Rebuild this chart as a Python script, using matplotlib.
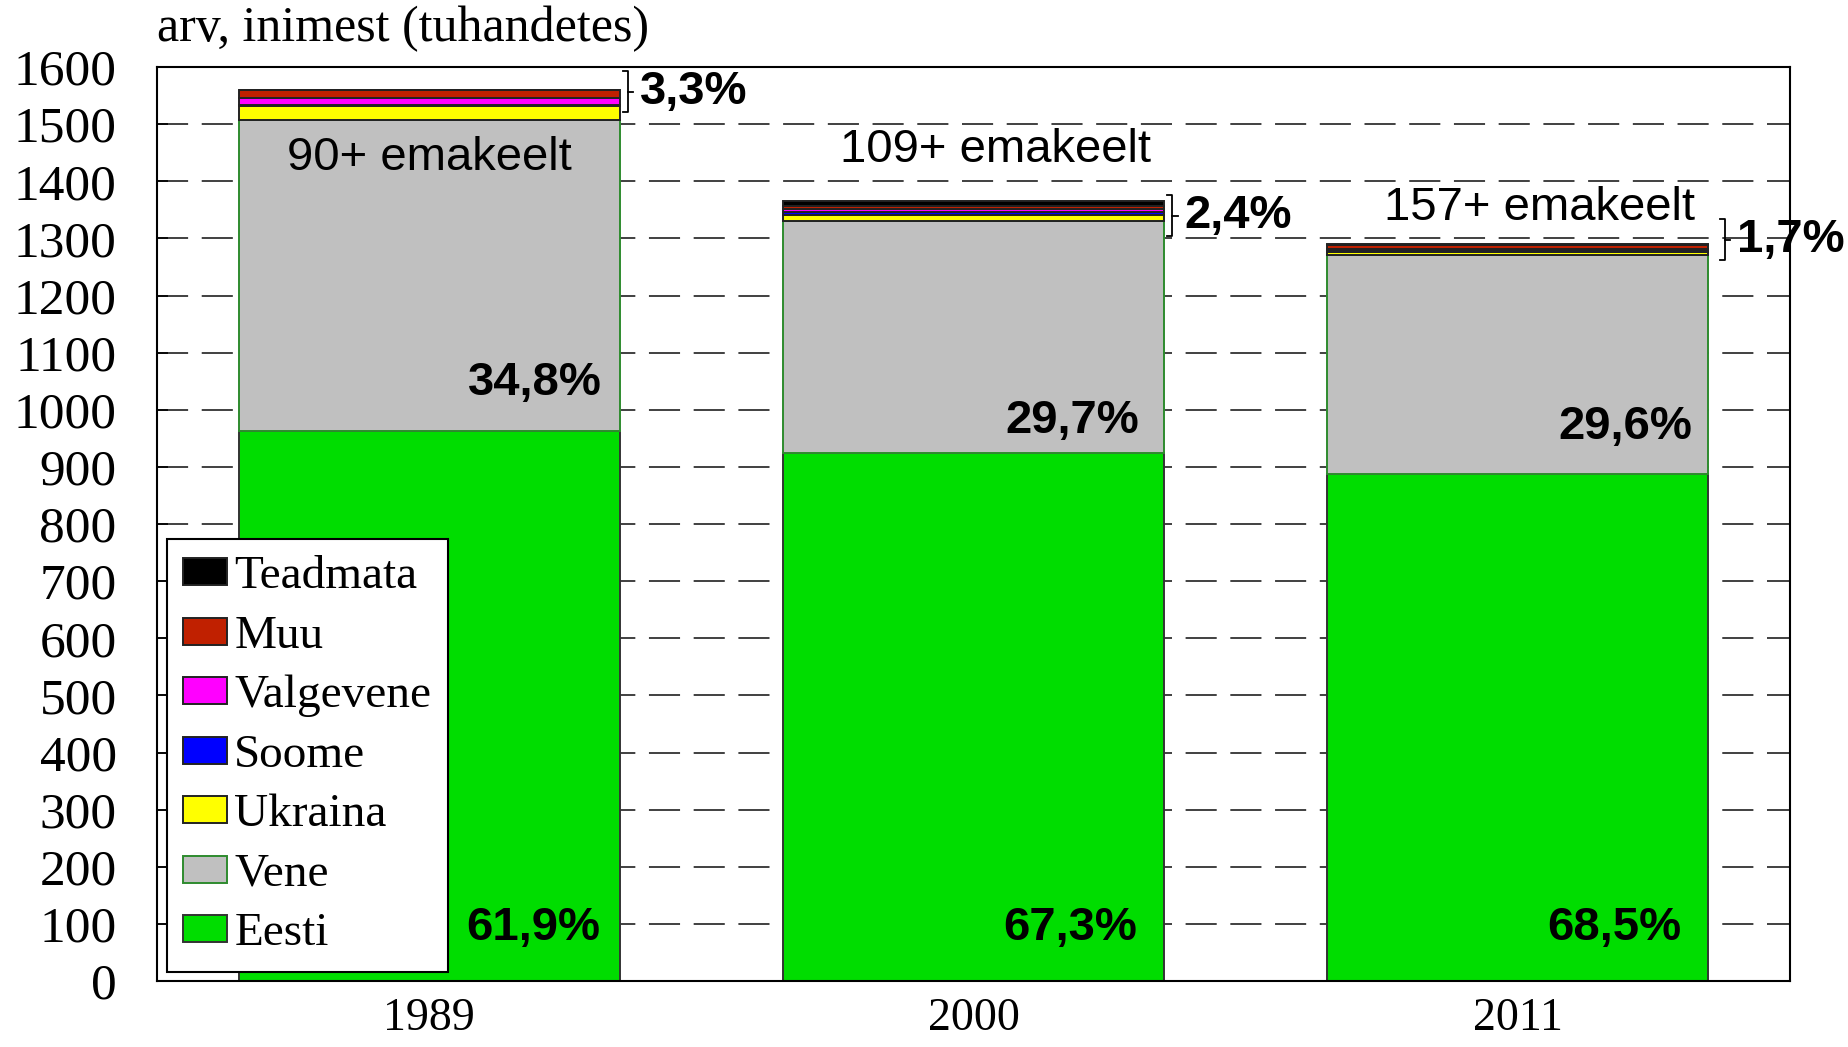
import numpy as np
import matplotlib

matplotlib.use("Agg")
from matplotlib import pyplot as plt

# population by mother tongue, thousands
years = ['1989', '2000', '2011']
eesti = [963, 924, 888]
vene = [544, 406, 383]
ukraina = [24, 11, 6]
soome = [3, 5, 2]
valgevene = [12, 5, 2]
muu = [14, 5, 7]
teadmata = [0, 10, 3]

names = ['Eesti', 'Vene', 'Ukraina', 'Soome', 'Valgevene', 'Muu', 'Teadmata']
colors = ['#00dd00', '#c0c0c0', '#ffff00', '#0000ff', '#ff00ff', '#c02000', '#000000']
edges = ['#333333', '#2e8b2e', '#222222', '#222222', '#222222', '#222222', '#222222']

eesti_pct = ['61,9%', '67,3%', '68,5%']
vene_pct = ['34,8%', '29,7%', '29,6%']
other_pct = ['3,3%', '2,4%', '1,7%']
n_keeli = ['90+ emakeelt', '109+ emakeelt', '157+ emakeelt']

serif = 'Liberation Serif'
sans = 'Liberation Sans'

fig = plt.figure(figsize=(18.49, 10.47), dpi=100)
ax = fig.add_axes([0.0849, 0.0630, 0.8832, 0.8730])

x = np.arange(len(years))
width = 0.70
series = [eesti, vene, ukraina, soome, valgevene, muu, teadmata]
bottom = np.zeros(len(years))
handles = []
for vals, name, c, ec in zip(series, names, colors, edges):
    vals = np.array(vals, dtype=float)
    b = ax.bar(x, vals, width, bottom=bottom, color=c, edgecolor=ec,
               linewidth=1.4, label=name, zorder=2)
    handles.append(b)
    bottom = bottom + vals

ax.set_xlim(-0.5, 2.5)
ax.set_ylim(0, 1600)
ax.set_yticks(np.arange(0, 1601, 100))
ax.set_xticks(x)
ax.set_xticklabels(years)

ax.yaxis.grid(True, linestyle=(0, (16, 7)), color='#404040', linewidth=1.4)
ax.set_axisbelow(True)
for s in ax.spines.values():
    s.set_linewidth(1.5)
    s.set_color('black')

ax.tick_params(axis='y', direction='in', length=8, width=1.2, pad=29,
               labelsize=37, labelfontfamily=serif)
ax.tick_params(axis='x', direction='in', length=14, width=1.2, pad=12,
               labelsize=33, labelfontfamily=serif)

ax.text(0, 1.0416, 'arv, inimest (tuhandetes)', transform=ax.transAxes,
        ha='left', va='center', fontsize=36, family=serif)

# labels on bars
eesti_y = 93
vene_y = [1047, 981, 970]
vene_x = [0.317, 1.304, 2.32]
eesti_x = [0.315, 1.30, 2.30]
for i in range(len(years)):
    ax.text(eesti_x[i], eesti_y, eesti_pct[i], ha='right', va='center',
            fontsize=34, fontweight='bold', family=sans, zorder=5)
    ax.text(vene_x[i], vene_y[i], vene_pct[i], ha='right', va='center',
            fontsize=34, fontweight='bold', family=sans, zorder=5)

keeli_x = [0.0, 1.04, 2.04]
keeli_y = [1440, 1455, 1354]
for i in range(len(years)):
    ax.text(keeli_x[i], keeli_y[i], n_keeli[i], ha='center', va='center',
            fontsize=34, family=sans, zorder=5)

# brackets for the small languages
brace_y = [1557, 1340, 1298]
brace_dx = [0.0, 0.0, 0.015]
for i in range(len(years)):
    x0 = x[i] + width / 2 + 0.006 + brace_dx[i]
    x1 = x0 + 0.009
    x2 = x1 + 0.01
    yc = brace_y[i]
    h = 36
    ax.plot([x0, x1, x1, x0], [yc + h, yc + h, yc - h, yc - h], color='black',
            lw=1.3, clip_on=False, zorder=5)
    ax.plot([x1, x2], [yc, yc], color='black', lw=1.3, clip_on=False, zorder=5)
    ax.text(x2 + 0.012, yc, other_pct[i], ha='left', va='center', fontsize=34,
            fontweight='bold', family=sans, clip_on=False, zorder=5)

leg = ax.legend(handles[::-1], names[::-1], loc='lower left',
                bbox_to_anchor=(0.006, 0.01), borderaxespad=0,
                prop={'family': serif, 'size': 34}, fancybox=False,
                framealpha=1, edgecolor='black', handlelength=0.93,
                handleheight=0.5, handletextpad=0.15, labelspacing=0.36,
                borderpad=0.35)
leg.get_frame().set_linewidth(1.5)
leg.set_zorder(6)

fig.savefig('out.png', dpi=100)
